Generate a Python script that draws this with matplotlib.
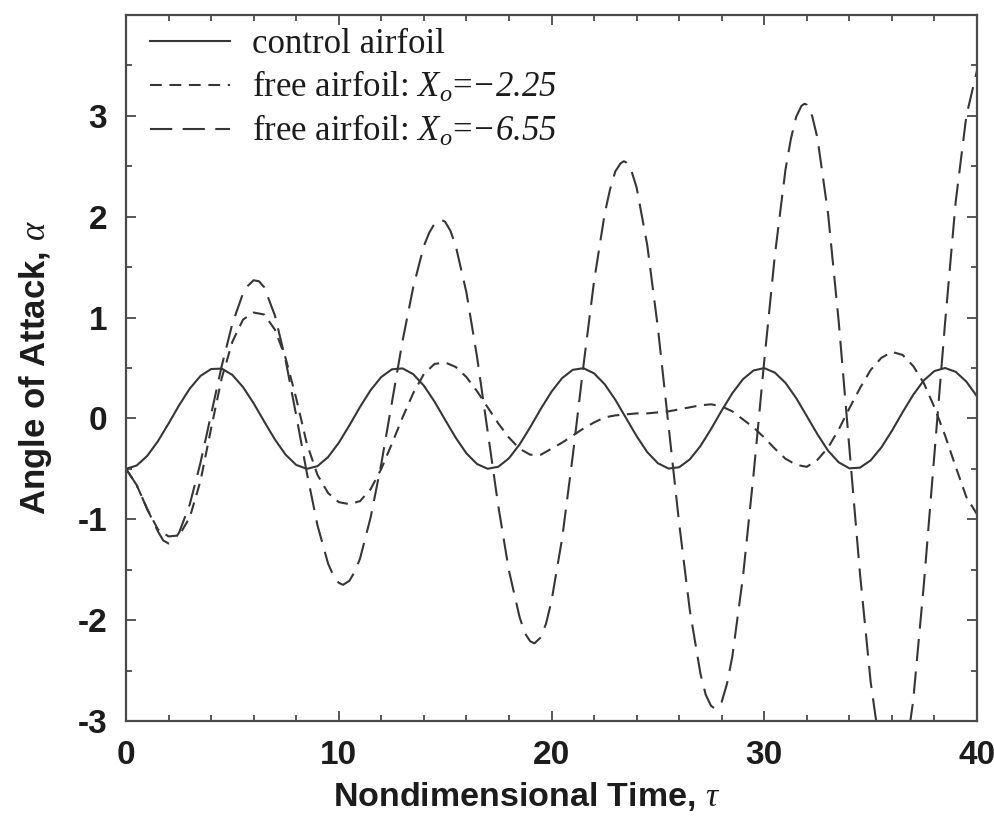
import matplotlib
matplotlib.use("Agg")
import matplotlib.pyplot as plt
from matplotlib.ticker import MultipleLocator

# ---- data ----
tau = [i * 0.5 for i in range(81)]  # sample times 0 .. 40

control_airfoil = [
    -0.500, -0.467, -0.371, -0.226, -0.051, 0.132, 0.296, 0.421, 0.490, 0.494,
    0.431, 0.311, 0.150, -0.032, -0.209, -0.359, -0.461, -0.500, -0.473, -0.383,
    -0.242, -0.069, 0.114, 0.281, 0.411, 0.487, 0.496, 0.439, 0.325, 0.167,
    -0.014, -0.192, -0.346, -0.452, -0.499, -0.479, -0.395, -0.258, -0.087, 0.096,
    0.265, 0.400, 0.482, 0.498, 0.447, 0.339, 0.185, 0.005, -0.175, -0.334,
    -0.444, -0.497, -0.484, -0.406, -0.274, -0.105, 0.078, 0.250, 0.389, 0.476,
    0.499, 0.454, 0.352, 0.202, 0.023, -0.157, -0.320, -0.435, -0.495, -0.488,
    -0.416, -0.289, -0.123, 0.060, 0.234, 0.377, 0.470, 0.500, 0.462, 0.365,
    0.219,
]

free_airfoil_225 = [
    -0.50, -0.66, -0.90, -1.10, -1.17, -1.16, -0.98, -0.62, -0.10, 0.40,
    0.76, 0.98, 1.05, 1.03, 0.88, 0.60, 0.20, -0.25, -0.56, -0.74,
    -0.83, -0.85, -0.82, -0.70, -0.50, -0.25, 0.01, 0.25, 0.44, 0.54,
    0.555, 0.51, 0.41, 0.27, 0.11, -0.05, -0.19, -0.30, -0.36, -0.36,
    -0.30, -0.24, -0.17, -0.10, -0.04, 0.01, 0.03, 0.04, 0.05, 0.05,
    0.06, 0.07, 0.09, 0.11, 0.13, 0.14, 0.12, 0.07, -0.01, -0.09,
    -0.19, -0.30, -0.40, -0.46, -0.48, -0.41, -0.29, -0.11, 0.10, 0.30,
    0.48, 0.60, 0.66, 0.63, 0.52, 0.35, 0.11, -0.17, -0.48, -0.78,
    -0.95,
]

tau_655 = [
    0.0, 0.5, 1.0, 1.5, 1.75, 2.0, 2.25, 2.5, 3.0, 3.5,
    4.0, 4.5, 5.0, 5.5, 5.75, 6.0, 6.25, 6.5, 7.0, 7.5,
    8.0, 8.5, 9.0, 9.5, 9.75, 10.0, 10.2, 10.5, 10.75, 11.0,
    11.5, 12.0, 12.5, 13.0, 13.5, 14.0, 14.25, 14.5, 14.8, 15.0,
    15.25, 15.5, 16.0, 16.5, 17.0, 17.5, 18.0, 18.5, 18.75, 19.0,
    19.2, 19.5, 19.75, 20.0, 20.5, 21.0, 21.5, 22.0, 22.5, 22.75,
    23.0, 23.25, 23.4, 23.5, 23.75, 24.0, 24.5, 25.0, 25.5, 26.0,
    26.5, 27.0, 27.25, 27.5, 27.7, 28.0, 28.25, 28.5, 29.0, 29.5,
    30.0, 30.5, 31.0, 31.25, 31.5, 31.75, 31.9, 32.0, 32.25, 32.5,
    33.0, 33.5, 34.0, 34.5, 35.0, 35.5, 36.0, 36.5, 37.0, 37.5,
    38.0, 38.5, 39.0, 39.5, 40.0,
]
free_airfoil_655 = [
    -0.50, -0.66, -0.90, -1.12, -1.21, -1.24, -1.21, -1.13, -0.85, -0.44,
    0.04, 0.52, 0.94, 1.24, 1.32, 1.37, 1.36, 1.30, 1.02, 0.58,
    0.03, -0.54, -1.06, -1.44, -1.56, -1.63, -1.65, -1.61, -1.52, -1.39,
    -0.98, -0.45, 0.16, 0.77, 1.30, 1.71, 1.84, 1.93, 1.97, 1.95,
    1.86, 1.71, 1.25, 0.61, -0.13, -0.87, -1.51, -1.97, -2.13, -2.21,
    -2.23, -2.17, -2.03, -1.81, -1.19, -0.37, 0.52, 1.36, 2.03, 2.27,
    2.45, 2.53, 2.55, 2.54, 2.46, 2.29, 1.72, 0.90, -0.07, -1.04,
    -1.90, -2.53, -2.74, -2.85, -2.88, -2.81, -2.63, -2.36, -1.57, -0.55,
    0.57, 1.62, 2.47, 2.77, 2.99, 3.10, 3.12, 3.11, 3.00, 2.78,
    2.03, 0.96, -0.29, -1.54, -2.61, -3.36, -3.69, -3.55, -2.80, -1.65,
    -0.35, 0.95, 2.15, 3.00, 3.45,
]

labels = [
    "control airfoil",
    r"free airfoil: $X_o$=$-2.25$",
    r"free airfoil: $X_o$=$-6.55$",
]
x_ticks = [0, 10, 20, 30, 40]
y_ticks = [-3, -2, -1, 0, 1, 2, 3]

# ---- style ----
plt.rcParams["mathtext.fontset"] = "custom"
plt.rcParams["mathtext.rm"] = "Liberation Serif:italic"
plt.rcParams["mathtext.it"] = "Liberation Serif:italic"
plt.rcParams["mathtext.bf"] = "Liberation Serif:bold"
plt.rcParams["axes.unicode_minus"] = False
plt.rcParams["lines.scale_dashes"] = False

LINE = "#363636"
FRAME = "#4a4a4a"
TEXT = "#1c1c1c"

W, H = 995, 817
fig = plt.figure(figsize=(W / 100, H / 100), dpi=100)
left, right, top, bottom = 126, 977, 15, 721
ax = fig.add_axes([left / W, 1 - bottom / H, (right - left) / W, (bottom - top) / H])

lw = 1.5
ax.plot(tau, control_airfoil, color=LINE, lw=lw, label=labels[0])
ax.plot(tau, free_airfoil_225, color=LINE, lw=lw, dashes=(8.5, 5.5), label=labels[1])
ax.plot(tau_655, free_airfoil_655, color=LINE, lw=lw, dashes=(16, 7.5), label=labels[2])

ax.set_xlim(0, 40)
ax.set_ylim(-3, 4)
ax.set_xticks(x_ticks)
ax.set_yticks(y_ticks)
ax.xaxis.set_minor_locator(MultipleLocator(2))
ax.yaxis.set_minor_locator(MultipleLocator(0.5))
ax.tick_params(which="both", direction="in", top=True, right=True,
               color=FRAME, width=1.3)
ax.tick_params(which="major", length=7, pad=13.5)
ax.tick_params(which="minor", length=4)
for sp in ax.spines.values():
    sp.set_color(FRAME)
    sp.set_linewidth(1.6)

for lab in ax.get_xticklabels() + ax.get_yticklabels():
    lab.set_fontfamily("Liberation Sans")
    lab.set_fontweight("bold")
    lab.set_fontsize(24)
    lab.set_color(TEXT)

ax.set_xlabel(r"Nondimensional Time, $\tau$", fontfamily="Liberation Sans",
              fontweight="bold", fontsize=24.5, color=TEXT)
ax.xaxis.label.set_horizontalalignment("left")
ax.xaxis.label.set_verticalalignment("baseline")
ax.xaxis.set_label_coords((333 - left) / (right - left), -(806 - bottom) / (bottom - top))

ax.set_ylabel(r"Angle of Attack, $\alpha$", fontfamily="Liberation Sans",
              fontweight="bold", fontsize=25, color=TEXT)
ax.yaxis.set_label_coords(-0.085, 0.5)

leg = ax.legend(loc="upper left", bbox_to_anchor=(0.028, 0.981), frameon=False,
                prop={"family": "Liberation Serif", "size": 25},
                handlelength=2.3, handletextpad=0.65, labelspacing=0.25,
                borderpad=0, borderaxespad=0)
for t in leg.get_texts():
    t.set_color(TEXT)

fig.savefig("out.png", dpi=100, facecolor="white")
